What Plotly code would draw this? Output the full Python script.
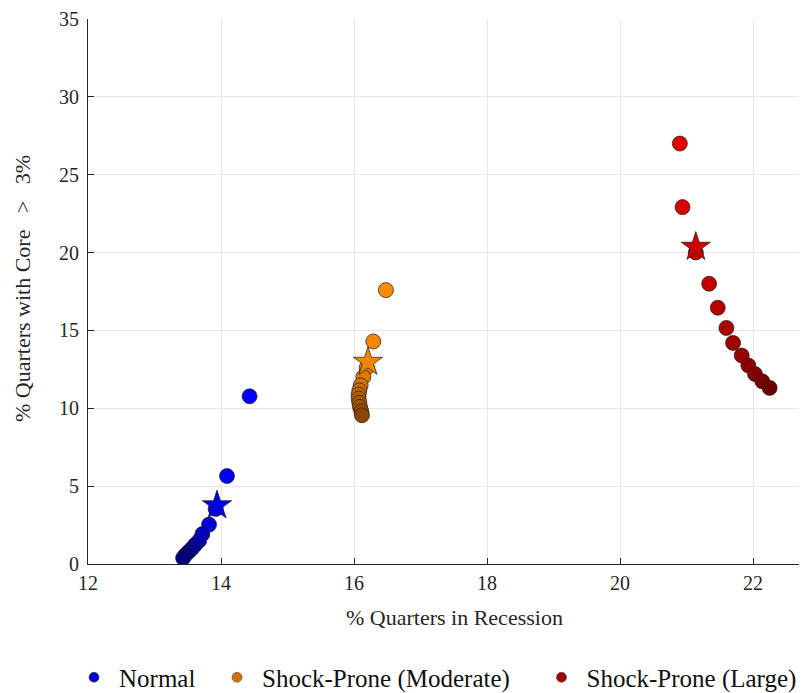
import plotly.graph_objects as go
import numpy as np

# Data: (% quarters in recession, % quarters with core > 3%)
normal_x = [14.43, 14.09, 13.92, 13.82, 13.72, 13.67, 13.61, 13.56, 13.51, 13.46, 13.43]
normal_y = [10.77, 5.65, 3.54, 2.53, 1.92, 1.49, 1.23, 0.98, 0.77, 0.56, 0.38]
normal_star = (13.94, 3.76)

moderate_x = [16.48, 16.29, 16.19, 16.14, 16.10, 16.08, 16.07, 16.07, 16.08, 16.09, 16.11, 16.12]
moderate_y = [17.59, 14.29, 12.6, 12.01, 11.47, 11.15, 10.88, 10.62, 10.36, 10.09, 9.81, 9.55]
moderate_star = (16.21, 12.97)

large_x = [20.90, 20.94, 21.14, 21.34, 21.47, 21.60, 21.70, 21.83, 21.93, 22.03, 22.14, 22.25]
large_y = [27.0, 22.92, 20.01, 18.0, 16.46, 15.16, 14.20, 13.39, 12.75, 12.20, 11.73, 11.31]
large_star = (21.14, 20.36)

series_names = ["Normal", "Shock-Prone (Moderate)", "Shock-Prone (Large)"]
x_ticks = [12, 14, 16, 18, 20, 22]
y_ticks = [0, 5, 10, 15, 20, 25, 30, 35]
x_title = "% Quarters in Recession"
y_title = "% Quarters with Core \u2002>\u2002 3%"


def gradient(c0, c1, n):
    c0 = np.array(c0, float)
    c1 = np.array(c1, float)
    out = []
    for t in np.linspace(0, 1, n):
        c = c0 + (c1 - c0) * t
        out.append("rgb(%d,%d,%d)" % tuple(np.round(c)))
    return out


FONT = "Liberation Serif"
W, H = 812, 693
L, T = 80, 11
PLOT_BOTTOM = 558
B = H - PLOT_BOTTOM
PW, PH = W - L, PLOT_BOTTOM - T


def px_x(p):
    return (p - L) / PW


def px_y(p):
    return (PLOT_BOTTOM - p) / PH


fig = go.Figure()

groups = [
    (normal_x, normal_y, normal_star, (0, 0, 255), (0, 0, 120), "rgb(0,0,235)", "rgb(0,0,205)"),
    (moderate_x, moderate_y, moderate_star, (255, 140, 0), (140, 70, 0), "rgb(240,135,0)", "rgb(205,115,10)"),
    (large_x, large_y, large_star, (225, 0, 0), (110, 0, 0), "rgb(205,0,0)", "rgb(160,0,0)"),
]
legend_ids = ["legend", "legend2", "legend3"]
legend_left = [61, 204, 528.5]

for name, lid, (xs, ys, star, c0, c1, starc, legc) in zip(series_names, legend_ids, groups):
    fig.add_trace(go.Scatter(
        x=xs, y=ys, mode="markers", showlegend=False,
        marker=dict(size=15, color=gradient(c0, c1, len(xs)),
                    line=dict(color="rgba(30,30,30,0.9)", width=0.8)),
    ))
    fig.add_trace(go.Scatter(
        x=[star[0]], y=[star[1]], mode="markers", showlegend=False,
        marker=dict(symbol="star", size=22, color=starc,
                    line=dict(color="rgba(30,30,30,0.9)", width=0.8)),
    ))
    fig.add_trace(go.Scatter(
        x=[None], y=[None], mode="markers", name=name, legend=lid,
        marker=dict(size=10, color=legc, line=dict(color="rgba(30,30,30,0.8)", width=0.5)),
    ))

legend_common = dict(orientation="h", xanchor="left", y=px_y(672), yanchor="middle",
                     font=dict(family=FONT, size=25, color="#111"),
                     itemwidth=40, bgcolor="rgba(0,0,0,0)")

fig.update_layout(
    width=W, height=H,
    margin=dict(l=L, r=0, t=T, b=B, pad=0),
    paper_bgcolor="white", plot_bgcolor="white",
    font=dict(family=FONT, size=20, color="#262626"),
    legend=dict(x=px_x(legend_left[0]), **legend_common),
    legend2=dict(x=px_x(legend_left[1]), **legend_common),
    legend3=dict(x=px_x(legend_left[2]), **legend_common),
    annotations=[
        dict(text=x_title, xref="paper", yref="paper",
             x=px_x(446), y=px_y(612),
             xanchor="center", yanchor="middle", showarrow=False,
             font=dict(family=FONT, size=22, color="#262626")),
        dict(text=y_title, xref="paper", yref="paper",
             x=px_x(14), y=px_y(282),
             xanchor="center", yanchor="middle", showarrow=False, textangle=-90,
             font=dict(family=FONT, size=22, color="#262626")),
    ],
)
fig.update_xaxes(
    range=[12, 12 + PW / 66.5], tickvals=x_ticks, automargin=False,
    showgrid=True, gridcolor="#e6e6e6", gridwidth=1,
    showline=True, linecolor="#262626", linewidth=1,
    ticks="inside", ticklen=6, tickcolor="#262626",
    tickfont=dict(size=20), zeroline=False, ticklabelstandoff=1,
)
fig.update_yaxes(
    range=[0, 35], tickvals=y_ticks, automargin=False,
    showgrid=True, gridcolor="#e6e6e6", gridwidth=1,
    showline=True, linecolor="#262626", linewidth=1,
    ticks="inside", ticklen=6, tickcolor="#262626",
    tickfont=dict(size=20), zeroline=False, ticklabelstandoff=4,
)

fig.write_html("out.html")
